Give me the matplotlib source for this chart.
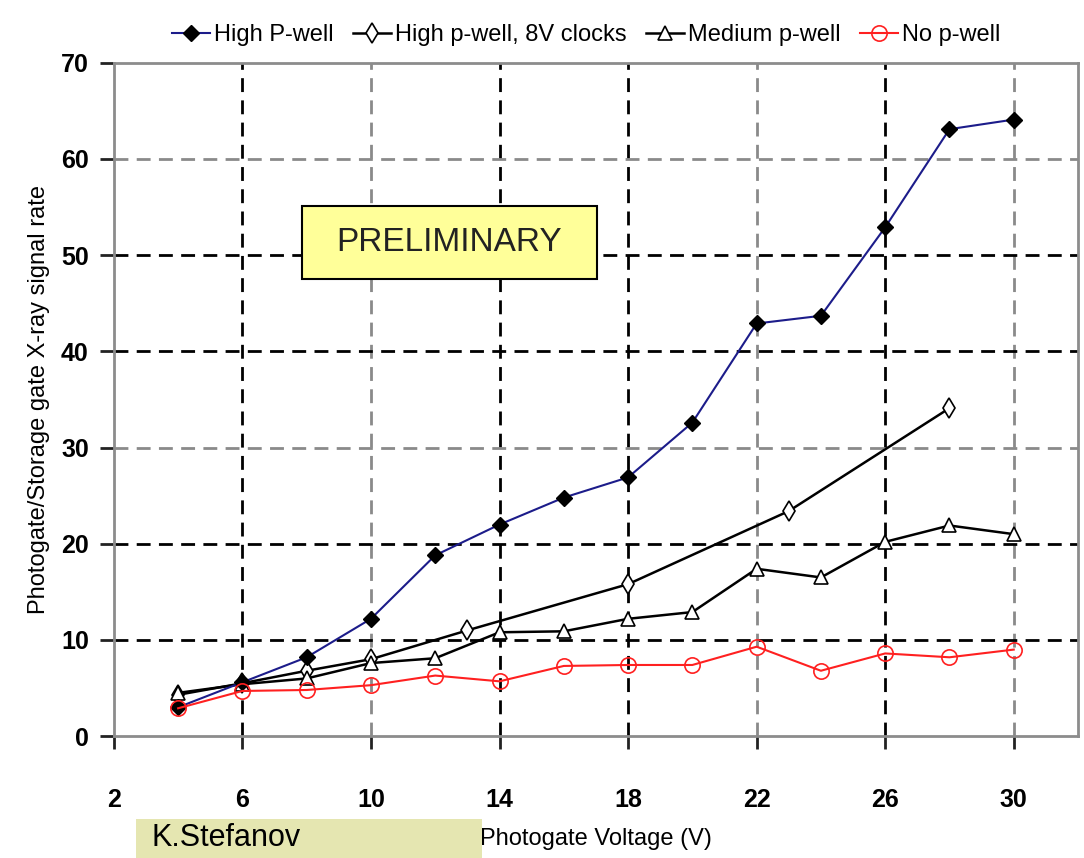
import matplotlib.pyplot as plt
from matplotlib.patches import Rectangle

# data
x_high = [4, 6, 8, 10, 12, 14, 16, 18, 20, 22, 24, 26, 28, 30]
y_high = [3.0, 5.6, 8.2, 12.2, 18.8, 22.0, 24.8, 26.9, 32.6, 42.9, 43.7, 52.9, 63.1, 64.1]

x_8v = [4, 6, 8, 10, 13, 18, 23, 28]
y_8v = [4.3, 5.5, 6.8, 8.0, 11.0, 15.8, 23.4, 34.1]

x_med = [4, 6, 8, 10, 12, 14, 16, 18, 20, 22, 24, 26, 28, 30]
y_med = [4.5, 5.4, 6.0, 7.6, 8.1, 10.8, 10.9, 12.2, 12.9, 17.4, 16.5, 20.2, 21.9, 21.0]

x_none = [4, 6, 8, 10, 12, 14, 16, 18, 20, 22, 24, 26, 28, 30]
y_none = [2.9, 4.7, 4.8, 5.3, 6.3, 5.7, 7.3, 7.4, 7.4, 9.3, 6.8, 8.6, 8.2, 9.0]

xticks = [2, 6, 10, 14, 18, 22, 26, 30]
yticks = [0, 10, 20, 30, 40, 50, 60, 70]

plt.rcParams['font.family'] = ['Liberation Sans', 'DejaVu Sans']

fig = plt.figure(figsize=(10.84, 8.58), dpi=100)
ax = fig.add_axes([0.105, 0.142, 0.8895, 0.7848])

ax.plot(x_high, y_high, color='#1c1c8a', lw=1.5, marker='D', ms=8,
        mfc='black', mec='black', label='High P-well', zorder=5)
ax.plot(x_8v, y_8v, color='black', lw=1.8, marker='d', ms=10,
        mfc='white', mec='black', mew=1.2, label='High p-well, 8V clocks', zorder=4)
ax.plot(x_med, y_med, color='black', lw=1.8, marker='^', ms=10,
        mfc='white', mec='black', mew=1.2, label='Medium p-well', zorder=4)
ax.plot(x_none, y_none, color='#ff2020', lw=1.5, marker='o', ms=11,
        mfc='none', mec='#ff2020', mew=1.2, label='No p-well', zorder=5)

ax.set_xlim(2, 32)
ax.set_ylim(0, 70)
ax.set_xticks(xticks)
ax.set_yticks(yticks)
ax.tick_params(direction='out', length=9, width=2, color='#222222',
               labelsize=18, pad=28)
ax.tick_params(axis='y', pad=8, length=10)
for lab in ax.get_xticklabels() + ax.get_yticklabels():
    lab.set_fontweight('bold')

ax.grid(True, ls=(0, (5, 3)), lw=2, color='black')
gray_x = [10, 22, 30]
gray_y = [30, 60]
for t, gl in zip(xticks, ax.xaxis.get_gridlines()):
    if t == 2:
        gl.set_visible(False)
    elif t in gray_x:
        gl.set_color('#8a8a8a')
for t, gl in zip(yticks, ax.yaxis.get_gridlines()):
    if t in (0, 70):
        gl.set_visible(False)
    elif t in gray_y:
        gl.set_color('#8a8a8a')

for s in ax.spines.values():
    s.set_color('#8c8c8c')
    s.set_linewidth(2)

ax.set_ylabel('Photogate/Storage gate X-ray signal rate', fontsize=17, labelpad=8)
ax.set_xlabel('Photogate Voltage (V)', fontsize=17, labelpad=12)

# PRELIMINARY box
ax.add_patch(Rectangle((7.86, 47.55), 9.16, 7.6, facecolor='#ffff99',
                       edgecolor='black', lw=1.5, zorder=6))
ax.text(12.44, 51.3, 'PRELIMINARY', ha='center', va='center', fontsize=24,
        color='#222222', zorder=7)

ax.legend(loc='lower center', bbox_to_anchor=(0.49, 1.0), ncol=4,
          frameon=False, fontsize=17, handlelength=1.6, handletextpad=0.2,
          columnspacing=0.8, borderaxespad=0.3)

# author box at the bottom
fig.patches.append(Rectangle((136 / 1084, 0), 346 / 1084, 39 / 858,
                             transform=fig.transFigure, facecolor='#e5e6b1',
                             edgecolor='none', zorder=8))
fig.text(152 / 1084, 19.5 / 858, 'K.Stefanov', fontsize=22, color='black',
         ha='left', va='center', zorder=9)

fig.savefig('out.png', dpi=100)
